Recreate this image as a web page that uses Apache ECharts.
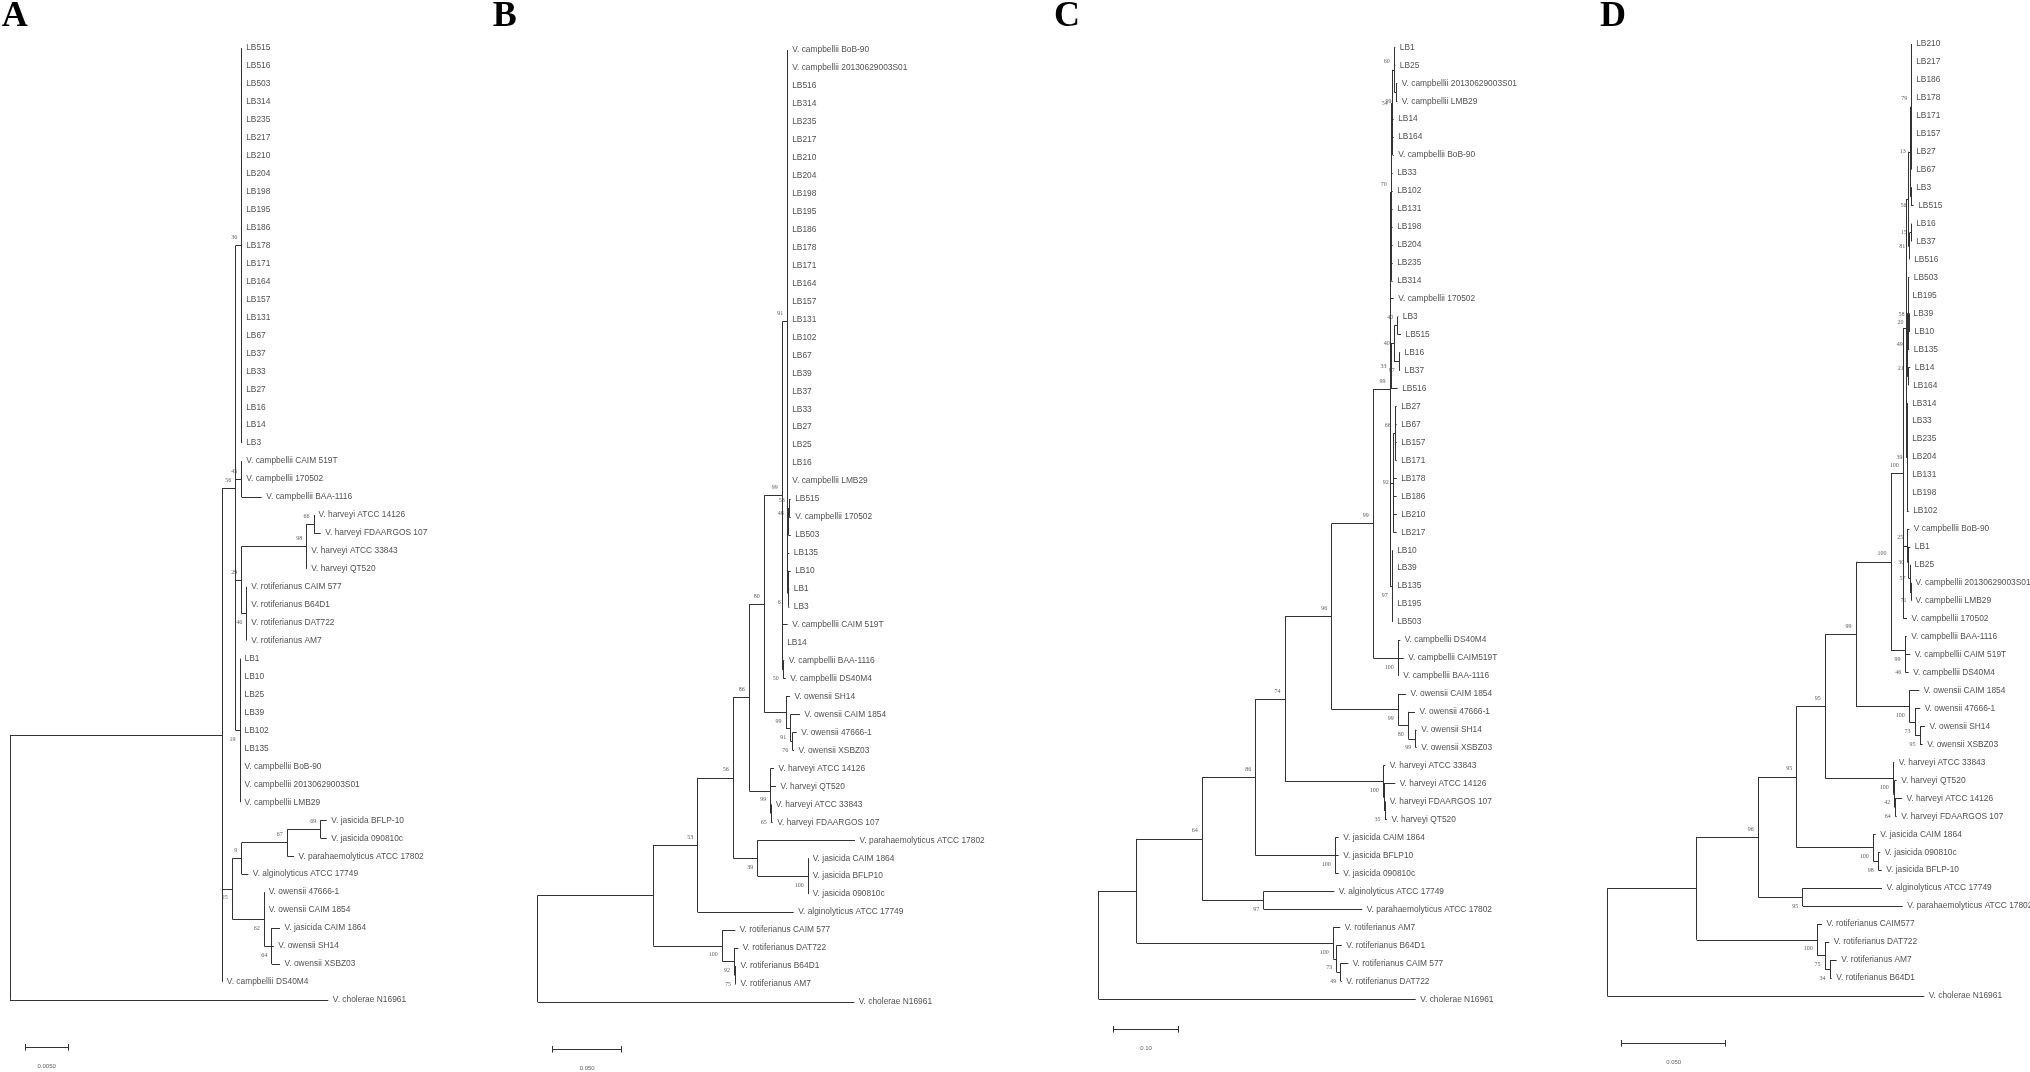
<!DOCTYPE html>
<html><head><meta charset="utf-8">
<script src="https://cdn.jsdelivr.net/npm/echarts@6/dist/echarts.min.js"></script>
<style>html,body{margin:0;padding:0;background:#fff}#c{width:2030px;height:1072px}</style>
</head><body><div id="c"></div>
<script>
// ---------------- DATA ----------------
// leaves: [name, distance from root, parent node]; order = top-to-bottom
// nodes: [id, distance from root, parent, bootstrap]
const panelLetters = ['A', 'B', 'C', 'D'];
const scaleValues = [0.005, 0.05, 0.1, 0.05];
const scaleLabels = ['0.0050', '0.050', '0.10', '0.050'];

const nodesA = [
['root',0,null,null],['M',0.02450,'root',null],['X',0.02604,'M',56],['n36',0.02673,'X',36],['n45',0.02673,'X',45],
['n29',0.02673,'X',29],['H98',0.03423,'n29',98],['H66',0.03508,'H98',66],['R46',0.02731,'n29',46],['L19',0.02654,'X',19],
['J25',0.02565,'M',25],['J9',0.02673,'J25',9],['N67',0.03200,'J9',67],['N69',0.03585,'N67',69],['O62',0.02934,'J25',62],['O64',0.03020,'O62',64]
];
const leavesA = [
['LB515',0.02673,'n36'],['LB516',0.02673,'n36'],['LB503',0.02673,'n36'],['LB314',0.02673,'n36'],['LB235',0.02673,'n36'],
['LB217',0.02673,'n36'],['LB210',0.02673,'n36'],['LB204',0.02673,'n36'],['LB198',0.02673,'n36'],['LB195',0.02673,'n36'],
['LB186',0.02673,'n36'],['LB178',0.02673,'n36'],['LB171',0.02673,'n36'],['LB164',0.02673,'n36'],['LB157',0.02673,'n36'],
['LB131',0.02673,'n36'],['LB67',0.02673,'n36'],['LB37',0.02673,'n36'],['LB33',0.02673,'n36'],['LB27',0.02673,'n36'],
['LB16',0.02673,'n36'],['LB14',0.02673,'n36'],['LB3',0.02673,'n36'],
['V. campbellii CAIM 519T',0.02673,'n45'],['V. campbellii 170502',0.02673,'n45'],['V. campbellii BAA-1116',0.02904,'n45'],
['V. harveyi ATCC 14126',0.03508,'H66'],['V. harveyi FDAARGOS 107',0.03585,'H66'],['V. harveyi ATCC 33843',0.03423,'H98'],['V. harveyi QT520',0.03423,'H98'],
['V. rotiferianus CAIM 577',0.02731,'R46'],['V. rotiferianus B64D1',0.02731,'R46'],['V. rotiferianus DAT722',0.02731,'R46'],['V. rotiferianus AM7',0.02731,'R46'],
['LB1',0.02654,'L19'],['LB10',0.02654,'L19'],['LB25',0.02654,'L19'],['LB39',0.02654,'L19'],['LB102',0.02654,'L19'],['LB135',0.02654,'L19'],
['V. campbellii BoB-90',0.02654,'L19'],['V. campbellii 20130629003S01',0.02654,'L19'],['V. campbellii LMB29',0.02654,'L19'],
['V. jasicida BFLP-10',0.03654,'N69'],['V. jasicida 090810c',0.03654,'N69'],['V. parahaemolyticus ATCC 17802',0.03277,'N67'],['V. alginolyticus ATCC 17749',0.02750,'J9'],
['V. owensii 47666-1',0.02934,'O62'],['V. owensii CAIM 1854',0.02934,'O62'],['V. jasicida CAIM 1864',0.03115,'O64'],['V. owensii SH14',0.03043,'O64'],['V. owensii XSBZ03',0.03115,'O64'],
['V. campbellii DS40M4',0.02450,'M'],['V. cholerae N16961',0.03673,'root']
];

const nodesB = [
['root',0,null,null],['N',0.08377,'root',null],['N53',0.11594,'N',53],['N56',0.14174,'N53',56],['N86',0.15333,'N56',86],
['N80',0.16420,'N86',80],['N99a',0.17725,'N80',99],['N91',0.18116,'N99a',91],['node48',0.18159,'N91',48],['node53',0.18232,'node48',53],
['N61',0.18159,'N91',61],['nLB',0.18188,'N61',null],['N50',0.17797,'N99a',50],['O99',0.17993,'N80',99],['O91',0.18333,'O99',91],
['O76',0.18478,'O91',76],['H99',0.16884,'N86',99],['H65',0.16928,'H99',65],['N39',0.15942,'N56',39],['J100',0.19609,'N39',100],
['R100',0.13377,'N',100],['R92',0.14261,'R100',92],['R75',0.14333,'R92',75]
];
const leavesB = [
['V. campbellii BoB-90',0.18116,'N91'],['V. campbellii 20130629003S01',0.18116,'N91'],['LB516',0.18116,'N91'],['LB314',0.18116,'N91'],
['LB235',0.18116,'N91'],['LB217',0.18116,'N91'],['LB210',0.18116,'N91'],['LB204',0.18116,'N91'],['LB198',0.18116,'N91'],['LB195',0.18116,'N91'],
['LB186',0.18116,'N91'],['LB178',0.18116,'N91'],['LB171',0.18116,'N91'],['LB164',0.18116,'N91'],['LB157',0.18116,'N91'],['LB131',0.18116,'N91'],
['LB102',0.18116,'N91'],['LB67',0.18116,'N91'],['LB39',0.18116,'N91'],['LB37',0.18116,'N91'],['LB33',0.18116,'N91'],['LB27',0.18116,'N91'],
['LB25',0.18116,'N91'],['LB16',0.18116,'N91'],['V. campbellii LMB29',0.18116,'N91'],
['LB515',0.18333,'node53'],['V. campbellii 170502',0.18333,'node53'],['LB503',0.18333,'node48'],['LB135',0.18232,'N91'],
['LB10',0.18333,'nLB'],['LB1',0.18232,'nLB'],['LB3',0.18232,'N61'],
['V. campbellii CAIM 519T',0.18116,'N99a'],['LB14',0.17754,'N99a'],['V. campbellii BAA-1116',0.17870,'N50'],['V. campbellii DS40M4',0.17971,'N50'],
['V. owensii SH14',0.18283,'O99'],['V. owensii CAIM 1854',0.19007,'O91'],['V. owensii 47666-1',0.18768,'O76'],['V. owensii XSBZ03',0.18572,'O76'],
['V. harveyi ATCC 14126',0.17123,'H99'],['V. harveyi QT520',0.17268,'H99'],['V. harveyi ATCC 33843',0.16928,'H65'],['V. harveyi FDAARGOS 107',0.17029,'H65'],
['V. parahaemolyticus ATCC 17802',0.22993,'N39'],['V. jasicida CAIM 1864',0.19609,'J100'],['V. jasicida BFLP10',0.19609,'J100'],['V. jasicida 090810c',0.19609,'J100'],
['V. alginolyticus ATCC 17749',0.18551,'N53'],
['V. rotiferianus CAIM 577',0.14319,'R100'],['V. rotiferianus DAT722',0.14536,'R92'],['V. rotiferianus B64D1',0.14370,'R75'],['V. rotiferianus AM7',0.14370,'R75'],
['V. cholerae N16961',0.22942,'root']
];

const nodesC = [
['root',0,null,null],['N1',0.05817,'root',null],['N64',0.15858,'N1',64],['N86',0.24032,'N64',86],['N74',0.28517,'N86',74],
['N96',0.35665,'N74',96],['N99b',0.42033,'N96',99],['N99c',0.44589,'N99b',99],['N70',0.44788,'N99c',70],['N54',0.44941,'N70',54],
['N60',0.45247,'N54',60],['Nb',0.45508,'N60',99],['Nc',0.45003,'N54',null],['N33',0.44742,'N99c',33],['N40b',0.45247,'N33',40],
['N40a',0.45768,'N40b',40],['N9x',0.46013,'N40b',97],['N92',0.45095,'N99c',92],['N66',0.45400,'N92',66],['N97c',0.44941,'N99c',97],
['C100',0.45860,'N99b',100],['O99',0.45860,'N96',99],['O80',0.47390,'O99',80],['O99b',0.48523,'O80',99],
['H100',0.43564,'N74',100],['Hx',0.43671,'H100',null],['H35',0.43824,'Hx',35],['J100',0.36216,'N86',100],['N97',0.25257,'N64',97],
['R100',0.35910,'N1',100],['R73',0.36431,'R100',73],['R49',0.37043,'R73',49]
];
const leavesC = [
['LB1',0.45400,'N60'],['LB25',0.45400,'N60'],['V. campbellii 20130629003S01',0.45707,'Nb'],['V. campbellii LMB29',0.45707,'Nb'],
['LB14',0.45156,'Nc'],['LB164',0.45156,'Nc'],['V. campbellii BoB-90',0.45156,'Nc'],
['LB33',0.45003,'N70'],['LB102',0.45003,'N70'],['LB131',0.45003,'N70'],['LB198',0.45003,'N70'],['LB204',0.45003,'N70'],['LB235',0.45003,'N70'],['LB314',0.45003,'N70'],
['V. campbellii 170502',0.45156,'N99c'],
['LB3',0.45860,'N40a'],['LB515',0.46273,'N40a'],['LB16',0.46120,'N9x'],['LB37',0.46120,'N9x'],['LB516',0.45768,'N33'],
['LB27',0.45615,'N66'],['LB67',0.45615,'N66'],['LB157',0.45615,'N66'],['LB171',0.45615,'N66'],
['LB178',0.45615,'N92'],['LB186',0.45615,'N92'],['LB210',0.45615,'N92'],['LB217',0.45615,'N92'],
['LB10',0.45003,'N97c'],['LB39',0.45003,'N97c'],['LB135',0.45003,'N97c'],['LB195',0.45003,'N97c'],['LB503',0.45003,'N97c'],
['V. campbellii DS40M4',0.46166,'C100'],['V. campbellii CAIM519T',0.46686,'C100'],['V. campbellii BAA-1116',0.45921,'C100'],
['V. owensii CAIM 1854',0.47038,'O99'],['V. owensii 47666-1',0.48416,'O80'],['V. owensii SH14',0.48676,'O99b'],['V. owensii XSBZ03',0.48676,'O99b'],
['V. harveyi ATCC 33843',0.43870,'H100'],['V. harveyi ATCC 14126',0.45400,'Hx'],['V. harveyi FDAARGOS 107',0.43870,'H35'],['V. harveyi QT520',0.44130,'H35'],
['V. jasicida CAIM 1864',0.36737,'J100'],['V. jasicida BFLP10',0.36737,'J100'],['V. jasicida 090810c',0.36737,'J100'],
['V. alginolyticus ATCC 17749',0.36063,'N97'],['V. parahaemolyticus ATCC 17802',0.40349,'N97'],
['V. rotiferianus AM7',0.36982,'R100'],['V. rotiferianus B64D1',0.37196,'R73'],['V. rotiferianus CAIM 577',0.38206,'R49'],['V. rotiferianus DAT722',0.37196,'R49'],
['V. cholerae N16961',0.48523,'root']
];

const nodesD = [
['root',0,null,null],['N1',0.04298,'root',null],['N96',0.07260,'N1',96],['N95a',0.09106,'N96',95],['N95c',0.10481,'N95a',95],
['N99',0.11957,'N95c',99],['N100b',0.13639,'N99',100],['N100c',0.14231,'N100b',100],['nA',0.14361,'N100c',null],['nX',0.14471,'nA',null],
['n13',0.14567,'nX',13],['n79',0.14635,'n13',79],['n56',0.14601,'n13',56],['n81',0.14538,'nX',81],['n15',0.14615,'n81',15],
['n49',0.14423,'nA',49],['n20',0.14457,'n49',20],['n58',0.14505,'n20',58],['n21',0.14471,'n49',21],['n39',0.14409,'nA',39],
['n25',0.14442,'N100c',25],['n30',0.14490,'n25',30],['n57',0.14553,'n30',57],['n71',0.14601,'n57',71],
['C99',0.14313,'N100b',99],['C46',0.14346,'C99',46],['O100',0.14519,'N99',100],['O73',0.14793,'O100',73],['O95',0.15034,'O73',95],
['H100',0.13750,'N95c',100],['Hx',0.13817,'H100',42],['H64',0.13846,'Hx',64],['J100',0.12788,'N95a',100],['J98',0.13029,'J100',98],
['N95b',0.09394,'N96',95],['R100',0.10096,'N1',100],['R75',0.10466,'R100',75],['R34',0.10707,'R75',34]
];
const leavesD = [
['LB210',0.14635,'n79'],['LB217',0.14635,'n79'],['LB186',0.14635,'n79'],['LB178',0.14635,'n79'],['LB171',0.14635,'n79'],
['LB157',0.14635,'n79'],['LB27',0.14635,'n79'],['LB67',0.14635,'n79'],['LB3',0.14635,'n56'],['LB515',0.14731,'n56'],
['LB16',0.14635,'n15'],['LB37',0.14635,'n15'],['LB516',0.14538,'n81'],['LB503',0.14519,'n20'],['LB195',0.14457,'n20'],
['LB39',0.14505,'n58'],['LB10',0.14553,'n58'],['LB135',0.14519,'n20'],['LB14',0.14567,'n21'],['LB164',0.14490,'n21'],
['LB314',0.14442,'n39'],['LB33',0.14442,'n39'],['LB235',0.14442,'n39'],['LB204',0.14442,'n39'],['LB131',0.14442,'n39'],['LB198',0.14442,'n39'],['LB102',0.14490,'n39'],
['V campbellii BoB-90',0.14519,'n25'],['LB1',0.14567,'n30'],['LB25',0.14553,'n57'],
['V. campbellii 20130629003S01',0.14601,'n71'],['V. campbellii LMB29',0.14601,'n71'],['V. campbellii 170502',0.14409,'N100c'],
['V. campbellii BAA-1116',0.14394,'C99'],['V. campbellii CAIM 519T',0.14567,'C46'],['V. campbellii DS40M4',0.14490,'C46'],
['V. owensii CAIM 1854',0.15000,'O100'],['V. owensii 47666-1',0.15048,'O73'],['V. owensii SH14',0.15274,'O95'],['V. owensii XSBZ03',0.15163,'O95'],
['V. harveyi ATCC 33843',0.13798,'H100'],['V. harveyi QT520',0.13913,'Hx'],['V. harveyi ATCC 14126',0.14168,'H64'],['V. harveyi FDAARGOS 107',0.13913,'H64'],
['V. jasicida CAIM 1864',0.12904,'J100'],['V. jasicida 090810c',0.13125,'J98'],['V. jasicida BFLP-10',0.13192,'J98'],
['V. alginolyticus ATCC 17749',0.13207,'N95b'],['V. parahaemolyticus ATCC 17802',0.14202,'N95b'],
['V. rotiferianus CAIM577',0.10322,'R100'],['V. rotiferianus DAT722',0.10673,'R75'],['V. rotiferianus AM7',0.11029,'R34'],['V. rotiferianus B64D1',0.10788,'R34'],
['V. cholerae N16961',0.15240,'root']
];

// ---------------- LAYOUT / STYLE ----------------
const layout = [
  {gx:10,     gy:48,   ppu:8667,  xMax:0.04, letterX:1.7,  barX:0.00173, barY:55.64,
   below:['R46','L19','J25','O62','O64'], side:[]},
  {gx:537.7,  gy:50,   ppu:1380,  xMax:0.25, letterX:492.7, barX:0.01087, barY:55.64,
   below:['R100','R92','R75','N39','J100','H99','H65','O99','O91','O76','N50','N61'], side:[]},
  {gx:1098.7, gy:47.3, ppu:653.3, xMax:0.5,  letterX:1054, barX:0.02236, barY:54.68,
   below:['R100','R73','R49','N97','J100','H100','H35','O99','O80','O99b','C100','N97c','Nb','N9x'], side:['N54','N40b','N33','N92']},
  {gx:1607.3, gy:44,   ppu:2080,  xMax:0.15, letterX:1600, barX:0.00692, barY:55.64,
   below:['R100','R75','R34','N95b','J100','J98','H100','Hx','H64','O100','O73','O95','C99','C46','n56','n20','n71'],
   side:['n13','n81','n15','n49','n39','n30','n57']}
];
const ROW = 17.96;
const LINE_COLOR = '#333333';
const TEXT_COLOR = '#1e1e1e';
const SANS = '"Liberation Sans", Arial, sans-serif';
const SERIF = '"Liberation Serif", "Times New Roman", serif';

const trees = [[leavesA, nodesA], [leavesB, nodesB], [leavesC, nodesC], [leavesD, nodesD]];

const grids = [], xAxes = [], yAxes = [], series = [], graphics = [];

trees.forEach(([leaves, nodes], p) => {
  const L = layout[p];
  const map = {};
  nodes.forEach(n => { map[n[0]] = {id: n[0], d: n[1], boot: n[3], kids: []}; });
  nodes.forEach(n => { if (n[2] !== null) map[n[2]].kids.push(map[n[0]]); });
  leaves.forEach((lf, i) => { map[lf[2]].kids.push({leaf: true, name: lf[0], d: lf[1], y: i}); });
  const yOf = o => {
    if (o.y === undefined) {
      const ys = o.kids.map(yOf);
      o.y = (Math.min(...ys) + Math.max(...ys)) / 2;
    }
    return o.y;
  };
  const segs = [];
  const boots = [];
  nodes.forEach(n => {
    const o = map[n[0]];
    yOf(o);
    const ys = o.kids.map(k => k.y);
    segs.push({coords: [[o.d, Math.min(...ys)], [o.d, Math.max(...ys)]]});
    o.kids.forEach(k => {
      if (k.d > o.d + 1e-9) segs.push({coords: [[o.d, k.y], [k.d, k.y]]});
    });
    if (o.boot !== null) {
      const dy = L.below.includes(o.id) ? 9 : (L.side.includes(o.id) ? 0 : -8);
      boots.push({value: [o.d, o.y], name: String(o.boot), label: {offset: [0, dy]}});
    }
  });
  // scale bar
  const sv = scaleValues[p], x0 = L.barX, yb = L.barY, t = 0.184;
  segs.push({coords: [[x0, yb], [x0 + sv, yb]]});
  segs.push({coords: [[x0, yb - t], [x0, yb + t]]});
  segs.push({coords: [[x0 + sv, yb - t], [x0 + sv, yb + t]]});

  grids.push({left: L.gx, top: L.gy, width: L.xMax * L.ppu, height: 53 * ROW, outerBoundsMode: 'none', containLabel: false});
  xAxes.push({type: 'value', gridIndex: p, min: 0, max: L.xMax, show: false});
  yAxes.push({type: 'value', gridIndex: p, min: 0, max: 53, inverse: true, show: false});

  series.push({
    type: 'lines', coordinateSystem: 'cartesian2d', xAxisIndex: p, yAxisIndex: p,
    data: segs, silent: true, clip: false,
    lineStyle: {color: LINE_COLOR, width: 1, opacity: 1, curveness: 0}
  });
  series.push({
    type: 'scatter', xAxisIndex: p, yAxisIndex: p, silent: true, clip: false,
    symbolSize: 1, itemStyle: {color: 'rgba(0,0,0,0)'},
    data: leaves.map((lf, i) => ({value: [lf[1], i], name: lf[0]})),
    label: {show: true, position: 'right', distance: 4, formatter: '{b}',
            fontSize: 8.4, fontFamily: SANS, color: TEXT_COLOR}
  });
  series.push({
    type: 'scatter', xAxisIndex: p, yAxisIndex: p, silent: true, clip: false,
    symbolSize: 1, itemStyle: {color: 'rgba(0,0,0,0)'},
    data: boots,
    label: {show: true, position: 'left', distance: 4, formatter: '{b}',
            fontSize: 6, fontFamily: SERIF, color: '#333'}
  });
  series.push({
    type: 'scatter', xAxisIndex: p, yAxisIndex: p, silent: true, clip: false,
    symbolSize: 1, itemStyle: {color: 'rgba(0,0,0,0)'},
    data: [{value: [x0 + sv / 2, yb], name: scaleLabels[p]}],
    label: {show: true, position: 'inside', offset: [0, 19], formatter: '{b}',
            fontSize: 6, fontFamily: SANS, color: '#333'}
  });
  graphics.push({
    type: 'text', x: L.letterX, y: -1, silent: true,
    style: {text: panelLetters[p], font: 'bold 36px "Liberation Serif", "Times New Roman", serif',
            fill: '#000', align: 'left', verticalAlign: 'top'}
  });
});

const chart = echarts.init(document.getElementById('c'), null, {renderer: 'canvas', width: 2030, height: 1072});
chart.setOption({
  animation: false,
  backgroundColor: '#ffffff',
  grid: grids, xAxis: xAxes, yAxis: yAxes,
  series: series,
  graphic: graphics
});
</script>
</body></html>
